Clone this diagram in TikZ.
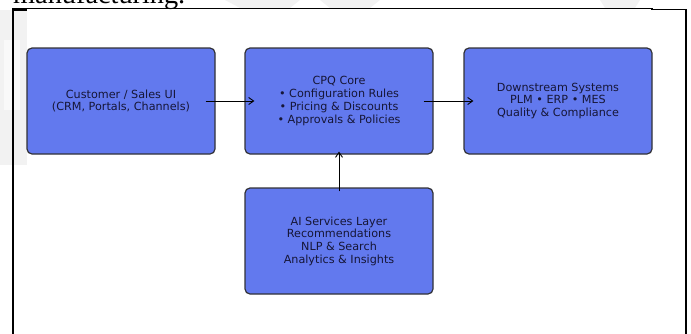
\documentclass[tikz,border=0pt]{standalone}
\usepackage{fontspec}
\setmainfont{DejaVu Sans}
\newfontfamily\capserif{Liberation Serif}
\usetikzlibrary{arrows.meta}
\definecolor{boxfill}{RGB}{98,121,238}
\definecolor{boxline}{RGB}{50,50,55}
\definecolor{boxtext}{RGB}{22,22,55}
\definecolor{wmark}{RGB}{242,242,242}
\tikzset{
  blockbox/.style={draw=boxline, fill=boxfill, line width=1.2pt, rounded corners=5pt,
    minimum width=188pt, minimum height=106pt, inner sep=0pt, align=center,
    text=boxtext, font=\fontsize{11.2}{12.7}\selectfont},
  flowarrow/.style={-{Straight Barb[length=5pt,width=7pt]}, line width=0.9pt, black},
  framepart/.style={black, line cap=rect}
}
\begin{document}
\begin{tikzpicture}[x=1pt,y=-1pt]
\useasboundingbox (0,0) rectangle (691,333);
\clip (0,0) rectangle (691,333);
% faint background watermark
\fill[wmark] (0,10) rectangle (27,165);
\fill[white!50!wmark] (4,40) rectangle (20,110);
\fill[wmark] (225,0) -- (300,0) -- (290,8) -- (240,8) -- cycle;
\fill[wmark] (320,0) -- (380,0) -- (370,8) -- (330,8) -- cycle;
\fill[wmark] (600,0) -- (640,0) -- (635,8) -- (605,8) -- cycle;
% cut-off caption text above the frame
\node[anchor=base west, inner sep=0pt, font=\capserif\fontsize{28.3}{30}\selectfont, text=black] (cap) at (13,3) {manufacturing.};
% frame
\draw[framepart, line width=2pt] (13,8.5) -- (13,333);
\draw[framepart, line width=1.2pt] (13,8.5) -- (652,8.5);
\draw[framepart, line width=2pt] (13,9.5) -- (26,9.5);
\draw[framepart, line width=1.4pt] (652,9.6) -- (685.5,9.6);
\draw[framepart, line width=2pt] (685.5,9.6) -- (685.5,333);
% blocks
\node[blockbox] (ui) at (121,101) {Customer / Sales UI\\(CRM, Portals, Channels)};
\node[blockbox] (cpq) at (339,101) {CPQ Core\\• Configuration Rules\\• Pricing \& Discounts\\• Approvals \& Policies};
\node[blockbox] (down) at (558,101) {Downstream Systems\\PLM • ERP • MES\\Quality \& Compliance};
\node[blockbox] (ai) at (339,241) {AI Services Layer\\Recommendations\\NLP \& Search\\Analytics \& Insights};
% connectors
\draw[flowarrow] ([xshift=-10pt]ui.east) -- ([xshift=10pt]cpq.west);
\draw[flowarrow] ([xshift=-10pt]cpq.east) -- ([xshift=10pt]down.west);
\draw[flowarrow] ([yshift=-4pt]ai.north) -- ([yshift=3pt]cpq.south);
\end{tikzpicture}
\end{document}
